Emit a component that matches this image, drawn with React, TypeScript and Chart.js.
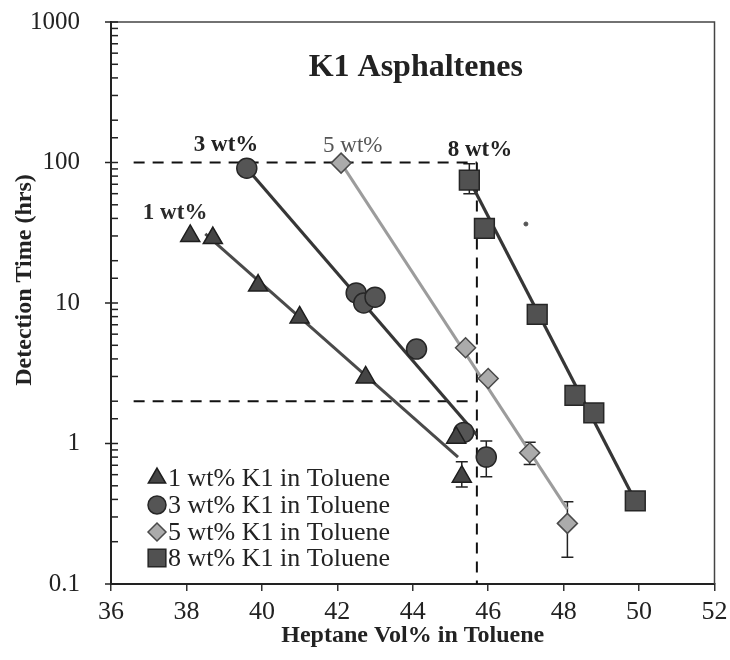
import React, { useEffect, useRef } from 'react';
import { Chart, registerables } from 'chart.js';
import { drawPoint } from 'chart.js/helpers';

Chart.register(...registerables);

const FONT = "'Liberation Serif', 'Times New Roman', Times, serif";
const TEXT = '#222';

// ---- axis ticks ----
const X_TICKS = [36, 38, 40, 42, 44, 46, 48, 50, 52];
const Y_TICKS = [0.1, 1, 10, 100, 1000];
const Y_TICK_LABELS = ['0.1', '1', '10', '100', '1000'];

// ---- series labels ----
const SERIES_LABELS = [
  '1 wt% K1 in Toluene',
  '3 wt% K1 in Toluene',
  '5 wt% K1 in Toluene',
  '8 wt% K1 in Toluene',
];

// ---- measured points ----
const X1 = [38.1, 38.7, 39.9, 41.0, 42.75, 45.15, 45.3];
const Y1 = [30, 29, 13.3, 7.9, 2.95, 1.1, 0.58];
const ERR1: (number[] | null)[] = [null, null, null, null, null, null, [0.49, 0.74]];

const X3 = [39.6, 42.5, 42.7, 43.0, 44.1, 45.35, 45.95];
const Y3 = [91, 11.8, 10.0, 11.0, 4.7, 1.2, 0.8];
const ERR3: (number[] | null)[] = [null, null, null, null, null, null, [0.58, 1.04]];

const X5 = [42.1, 45.4, 46.0, 47.1, 48.1];
const Y5 = [99, 4.8, 2.9, 0.86, 0.27];
const ERR5: (number[] | null)[] = [null, null, null, [0.71, 1.02], [0.155, 0.385]];

const X8 = [45.5, 45.9, 47.3, 48.3, 48.8, 49.9];
const Y8 = [75, 34, 8.3, 2.2, 1.65, 0.39];
const ERR8: (number[] | null)[] = [[60, 98], null, null, null, null, null];

// ---- fitted trend lines (end points) ----
const FIT1_X = [38.5, 45.2];
const FIT1_Y = [31, 0.8];
const FIT3_X = [39.6, 45.7];
const FIT3_Y = [91, 1.15];
const FIT5_X = [42.1, 48.1];
const FIT5_Y = [99, 0.34];
const FIT8_X = [45.5, 49.9];
const FIT8_Y = [75, 0.39];

// ---- dashed guide lines ----
const GUIDE_TOP_X = [36.6, 45.7];
const GUIDE_TOP_Y = [100, 100];
const GUIDE_LOW_X = [36.6, 45.7];
const GUIDE_LOW_Y = [2, 2];
const GUIDE_V_X = [45.7, 45.7];
const GUIDE_V_Y = [100, 0.1];

// ---- stray speck in the figure ----
const SPECK_X = [47.0];
const SPECK_Y = [36.5];

// ---- in-plot annotation labels (data coordinates) ----
const ANNOT_TEXT = ['1 wt%', '3 wt%', '5 wt%', '8 wt%'];
const ANNOT_X = [37.7, 39.05, 42.41, 45.78];
const ANNOT_Y = [43.8, 133, 131, 123];
const ANNOT_BOLD = [true, true, false, true];
const ANNOT_COLOR = ['#2a2a2a', '#222', '#555', '#222'];

const TITLE = 'K1 Asphaltenes';
const X_TITLE = 'Heptane Vol% in Toluene';
const Y_TITLE = 'Detection Time (hrs)';

const pts = (xs: number[], ys: number[]) => xs.map((x, i) => ({ x, y: ys[i] }));

const STYLES = [
  { pointStyle: 'triangle', radius: 11, fill: '#454545', stroke: '#1e1e1e' },
  { pointStyle: 'circle', radius: 10, fill: '#555', stroke: '#262626' },
  { pointStyle: 'rectRot', radius: 10, fill: '#ababab', stroke: '#4a4a4a' },
  { pointStyle: 'rect', radius: 14, fill: '#515151', stroke: '#262626' },
];
const SERIES_X = [X1, X3, X5, X8];
const SERIES_Y = [Y1, Y3, Y5, Y8];
const SERIES_ERR = [ERR1, ERR3, ERR5, ERR8];

const extrasPlugin = {
  id: 'k1extras',
  beforeDatasetsDraw(chart: any) {
    const { ctx } = chart;
    const xs = chart.scales.x;
    const ys = chart.scales.y;
    ctx.save();
    ctx.strokeStyle = '#222';
    ctx.lineWidth = 1.5;
    SERIES_ERR.forEach((errs, i) => {
      errs.forEach((e, j) => {
        if (!e) return;
        const px = xs.getPixelForValue(SERIES_X[i][j]);
        const lo = ys.getPixelForValue(e[0]);
        const hi = ys.getPixelForValue(e[1]);
        ctx.beginPath();
        ctx.moveTo(px, lo);
        ctx.lineTo(px, hi);
        ctx.moveTo(px - 6, lo);
        ctx.lineTo(px + 6, lo);
        ctx.moveTo(px - 6, hi);
        ctx.lineTo(px + 6, hi);
        ctx.stroke();
      });
    });
    ctx.restore();
  },
  afterDraw(chart: any) {
    const { ctx, chartArea } = chart;
    const xs = chart.scales.x;
    const ys = chart.scales.y;
    const { left, right, top, bottom } = chartArea;
    ctx.save();

    // frame top + right
    ctx.strokeStyle = '#444';
    ctx.lineWidth = 1.5;
    ctx.beginPath();
    ctx.moveTo(left, top);
    ctx.lineTo(right, top);
    ctx.lineTo(right, bottom);
    ctx.stroke();

    // y ticks (majors cross the axis, minors inside)
    ctx.strokeStyle = '#222';
    ctx.lineWidth = 1.5;
    ys.ticks.forEach((t: any) => {
      const p = ys.getPixelForValue(t.value);
      const lg = Math.log10(t.value);
      const major = Math.abs(lg - Math.round(lg)) < 1e-6;
      ctx.beginPath();
      if (major) {
        ctx.moveTo(left - 6, p);
        ctx.lineTo(left + 7, p);
      } else {
        ctx.moveTo(left, p);
        ctx.lineTo(left + 7, p);
      }
      ctx.stroke();
    });

    // chart title
    ctx.fillStyle = TEXT;
    ctx.textAlign = 'center';
    ctx.textBaseline = 'middle';
    ctx.font = `bold 32px ${FONT}`;
    ctx.fillText(TITLE, (left + right) / 2 + 3, top + 46);

    // y axis title
    ctx.save();
    ctx.translate(25, top + 258);
    ctx.rotate(-Math.PI / 2);
    ctx.font = `bold 24px ${FONT}`;
    ctx.fillText(Y_TITLE, 0, 0);
    ctx.restore();

    // annotations
    ANNOT_TEXT.forEach((txt, i) => {
      ctx.font = `${ANNOT_BOLD[i] ? 'bold ' : ''}23px ${FONT}`;
      ctx.fillStyle = ANNOT_COLOR[i];
      ctx.fillText(txt, xs.getPixelForValue(ANNOT_X[i]), ys.getPixelForValue(ANNOT_Y[i]));
    });

    // legend (lower left inside plot)
    const lx = left + 46;
    const rowY = [bottom - 106, bottom - 79, bottom - 52, bottom - 26];
    SERIES_LABELS.forEach((lab, i) => {
      const st = STYLES[i];
      ctx.fillStyle = st.fill;
      ctx.strokeStyle = st.stroke;
      ctx.lineWidth = 1.5;
      const r = st.pointStyle === 'rect' ? 12.5 : st.radius - 1;
      drawPoint(ctx, { pointStyle: st.pointStyle, radius: r, borderWidth: 1.5, rotation: 0 } as any, lx, rowY[i]);
      ctx.fillStyle = TEXT;
      ctx.textAlign = 'left';
      ctx.textBaseline = 'middle';
      ctx.font = `26px ${FONT}`;
      ctx.fillText(lab, lx + 11, rowY[i] + 1);
    });

    ctx.restore();
  },
};

export default function App() {
  const canvasRef = useRef<HTMLCanvasElement | null>(null);

  useEffect(() => {
    if (!canvasRef.current) return;

    const markerSets = SERIES_LABELS.map((label, i) => ({
      label,
      data: pts(SERIES_X[i], SERIES_Y[i]),
      showLine: false,
      pointStyle: STYLES[i].pointStyle,
      pointRadius: STYLES[i].radius,
      pointHoverRadius: STYLES[i].radius,
      backgroundColor: STYLES[i].fill,
      borderColor: STYLES[i].stroke,
      pointBorderWidth: 1.5,
    }));

    const lineSet = (label: string, xs: number[], ys: number[], color: string, width: number, dash: number[] = []) => ({
      label,
      data: pts(xs, ys),
      showLine: true,
      pointRadius: 0,
      pointHoverRadius: 0,
      borderColor: color,
      borderWidth: width,
      borderDash: dash,
      backgroundColor: color,
      fill: false,
    });

    const chart = new Chart(canvasRef.current, {
      type: 'scatter',
      data: {
        datasets: [
          ...markerSets,
          {
            label: 'speck',
            data: pts(SPECK_X, SPECK_Y),
            showLine: false,
            pointStyle: 'circle',
            pointRadius: 2,
            backgroundColor: '#555',
            borderColor: '#555',
          },
          lineSet('fit 1', FIT1_X, FIT1_Y, '#4a4a4a', 3),
          lineSet('fit 3', FIT3_X, FIT3_Y, '#363636', 3.2),
          lineSet('fit 5', FIT5_X, FIT5_Y, '#9c9c9c', 3),
          lineSet('fit 8', FIT8_X, FIT8_Y, '#363636', 3.2),
          lineSet('guide 100', GUIDE_TOP_X, GUIDE_TOP_Y, '#111', 2, [11, 8]),
          lineSet('guide 2', GUIDE_LOW_X, GUIDE_LOW_Y, '#111', 2, [11, 8]),
          lineSet('guide v', GUIDE_V_X, GUIDE_V_Y, '#111', 2, [11, 8]),
        ] as any,
      },
      options: {
        animation: false,
        responsive: false,
        layout: { padding: { top: 22, right: 15, bottom: 0, left: 0 } },
        plugins: {
          legend: { display: false },
          tooltip: { enabled: false },
        },
        scales: {
          x: {
            type: 'linear',
            min: 36,
            max: 52,
            afterFit: (s: any) => {
              s.height = 76;
              s.paddingLeft = 0;
              s.paddingRight = 0;
            },
            afterBuildTicks: (s: any) => {
              s.ticks = X_TICKS.map((v) => ({ value: v }));
            },
            ticks: {
              font: { family: FONT, size: 26 },
              color: TEXT,
              padding: 6,
              autoSkip: false,
              maxRotation: 0,
            },
            grid: {
              display: true,
              drawOnChartArea: false,
              drawTicks: true,
              tickLength: 7,
              color: '#333',
              lineWidth: 1.5,
            },
            border: { display: true, color: '#222', width: 2 },
            title: {
              display: true,
              text: X_TITLE,
              font: { family: FONT, size: 24, weight: 'bold' },
              color: TEXT,
              padding: { top: 0, bottom: 10 },
            },
          },
          y: {
            type: 'logarithmic',
            min: 0.1,
            max: 1000,
            afterFit: (s: any) => {
              s.width = 111;
              s.paddingTop = 0;
              s.paddingBottom = 0;
            },
            ticks: {
              autoSkip: false,
              font: { family: FONT, size: 25 },
              color: TEXT,
              padding: 23,
              callback: (v: any) => {
                const idx = Y_TICKS.findIndex((t) => Math.abs(t - Number(v)) / t < 1e-6);
                return idx >= 0 ? Y_TICK_LABELS[idx] : '';
              },
            },
            grid: { display: false },
            border: { display: true, color: '#222', width: 2 },
          },
        },
      } as any,
      plugins: [extrasPlugin],
    });

    return () => chart.destroy();
  }, []);

  return (
    <div style={{ position: 'absolute', left: 0, top: 0, width: 730, height: 660, background: '#fff' }}>
      <canvas ref={canvasRef} width={730} height={660} style={{ display: 'block' }} />
    </div>
  );
}
